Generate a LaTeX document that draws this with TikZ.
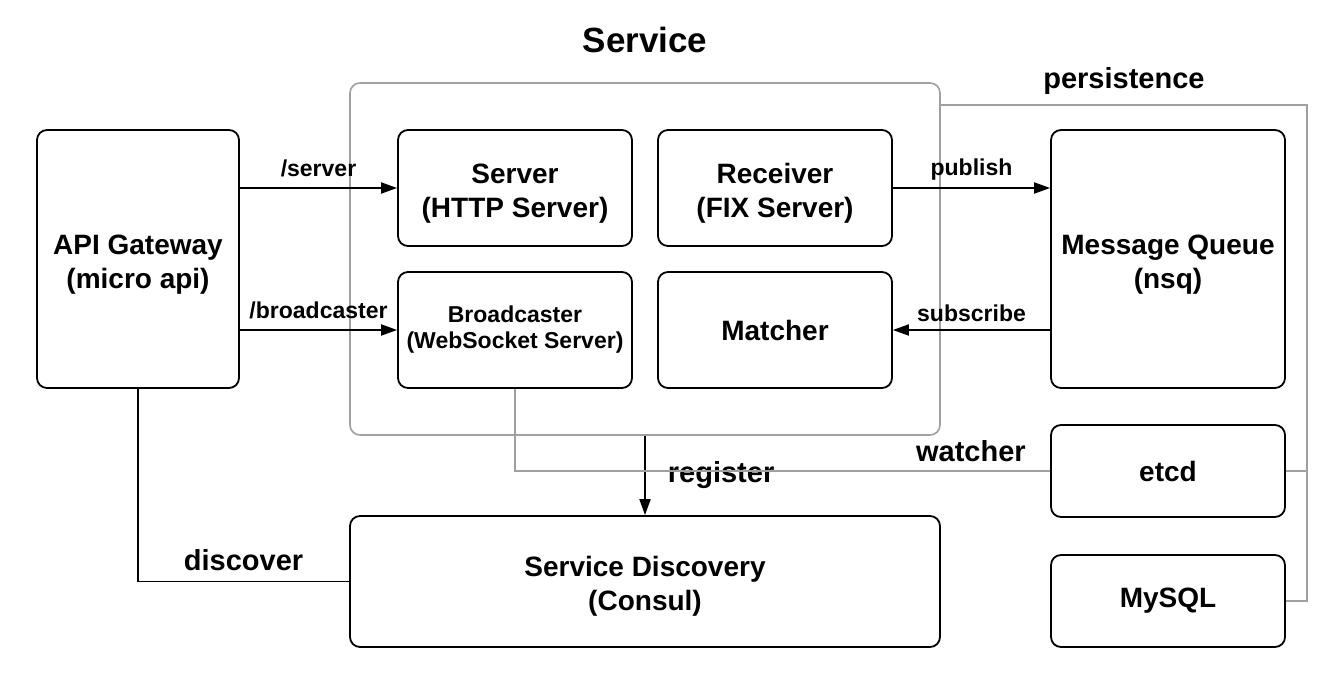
\documentclass[tikz,border=0pt]{standalone}
\usepackage{fontspec}
\setmainfont{Liberation Sans}
\usetikzlibrary{calc,arrows.meta}
\definecolor{frameGray}{RGB}{160,160,160}
\newcommand{\TopGap}{\rule{0pt}{15pt}}
\tikzset{
  block/.style={draw,rounded corners=5pt,line width=0.9pt,align=center,
    font=\bfseries\fontsize{14}{17}\selectfont},
  flow/.style={line width=0.9pt,-{Triangle[length=8pt,width=5.5pt]}},
  link/.style={draw=frameGray,line width=0.8pt},
  tag/.style={font=\bfseries\fontsize{11.5}{13}\selectfont,inner sep=2pt},
  bigtag/.style={font=\bfseries\fontsize{14.5}{17}\selectfont,inner sep=2pt}
}

\begin{document}
\begin{tikzpicture}[x=0.5pt,y=-0.5pt]
\useasboundingbox[fill=white] (0,0) rectangle (1342,684);

\node[draw=frameGray,line width=0.8pt,rounded corners=5pt,minimum width=295pt,minimum height=176pt] (service) at (645,259) {};
\node[font=\bfseries\fontsize{17.5}{20}\selectfont] (title) at (645,40) {Service};

\node[block,minimum width=101pt,minimum height=129pt] (gateway) at (138,259) {\TopGap API Gateway\\(micro api)};
\node[block,minimum width=117pt,minimum height=58pt] (server) at (515,188) {\TopGap Server\\(HTTP Server)};
\node[block,minimum width=117pt,minimum height=58pt] (receiver) at (775,188) {\TopGap Receiver\\(FIX Server)};
\node[block,minimum width=117pt,minimum height=58pt,font=\bfseries\fontsize{11.5}{13}\selectfont] (broadcaster) at (515,330) {Broadcaster\\(WebSocket Server)};
\node[block,minimum width=117pt,minimum height=58pt] (matcher) at (775,330) {Matcher};
\node[block,minimum width=117pt,minimum height=129pt] (mq) at (1168,259) {\TopGap Message Queue\\(nsq)};
\node[block,minimum width=117pt,minimum height=46pt] (etcd) at (1168,471) {etcd};
\node[block,minimum width=117pt,minimum height=46pt] (mysql) at (1168,601) {MySQL};
\node[block,minimum width=295pt,minimum height=65.5pt] (discovery) at (645,581.5) {\TopGap Service Discovery\\(Consul)};

\coordinate (persist) at (1307,105);

\draw[flow] (gateway.east |- server.west) -- node[tag,above=3pt] {/server} (server.west);
\draw[flow] (gateway.east |- broadcaster.west) -- node[tag,above=3pt] {/broadcaster} (broadcaster.west);
\draw[flow] (receiver.east) -- node[tag,above=1.5pt] {publish} (mq.west |- receiver.east);
\draw[flow] (mq.west |- matcher.east) -- node[tag,above=1.5pt] {subscribe} (matcher.east);
\draw[flow] (service.south) -- node[bigtag,right=9pt] {register} (discovery.north);
\draw[line width=0.9pt] (gateway.south) |- node[bigtag,above=3pt,pos=0.75] {discover} (discovery.west);

\draw[link] (broadcaster.south) |- node[bigtag,above=2pt,pos=0.926,text=black] {watcher} (etcd.west);
\draw[link] (service.east |- persist) -- node[bigtag,above=3pt,pos=0.5,text=black] {persistence} (persist) |- (mysql.east);
\draw[link] (etcd.east) -- (persist |- etcd.east);
\end{tikzpicture}
\end{document}
